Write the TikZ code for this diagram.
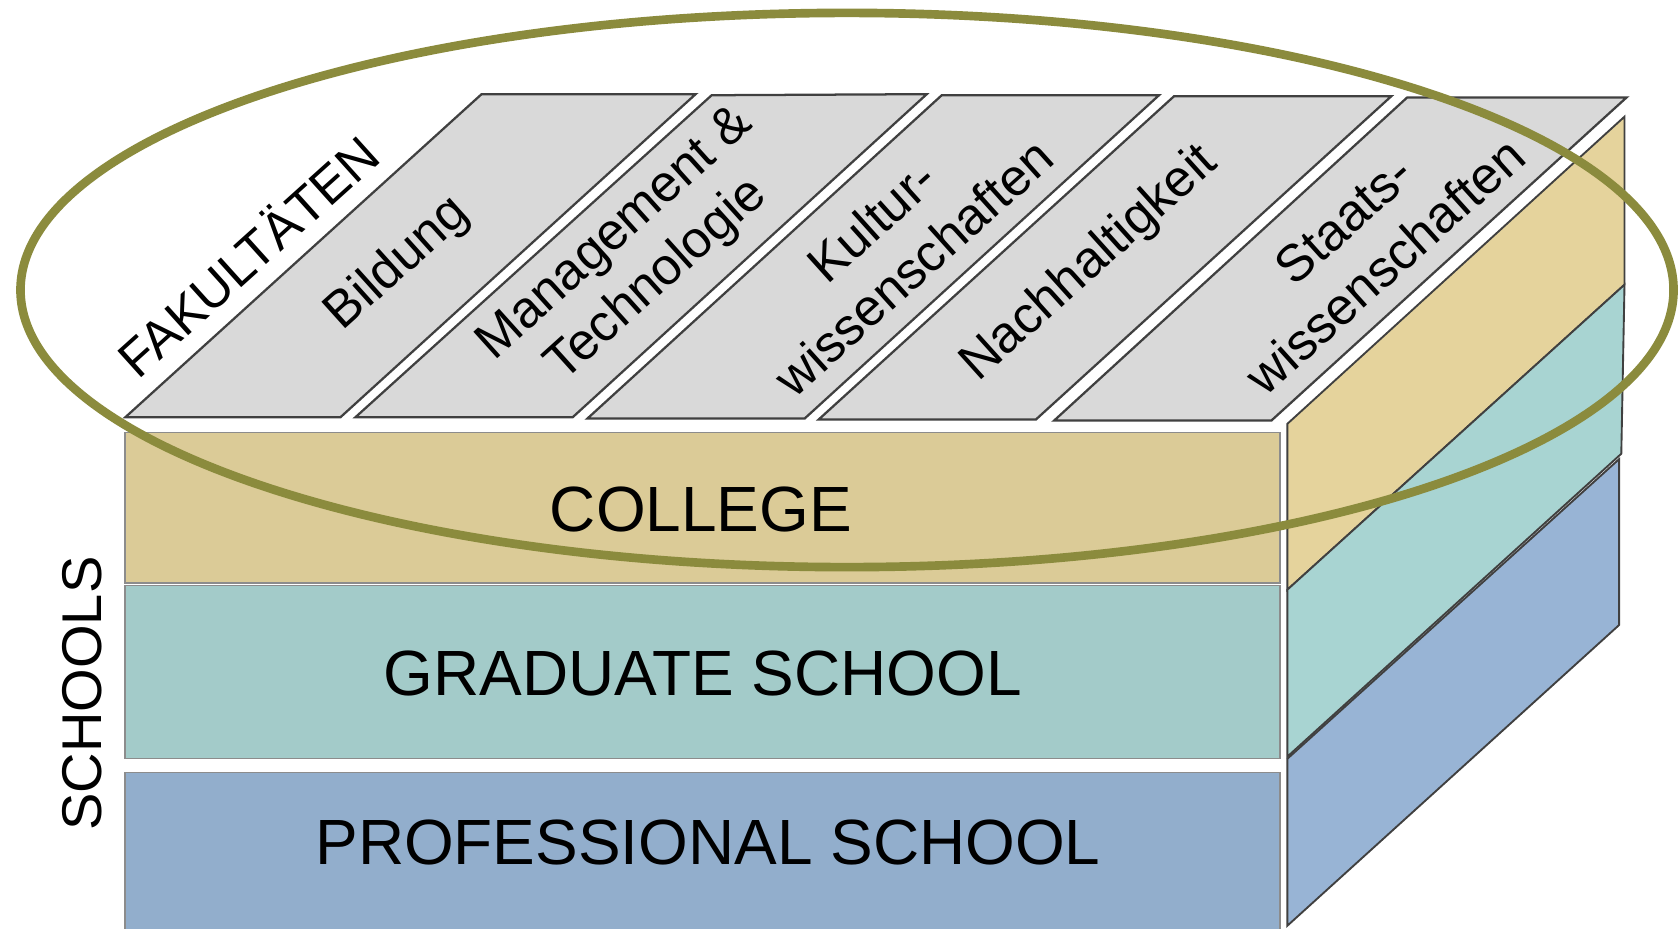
\documentclass[tikz,border=0pt]{standalone}
\usepackage{fontspec}
\setmainfont{Liberation Sans}
\definecolor{facgray}{HTML}{D9D9D9}
\definecolor{edgedark}{HTML}{404040}
\definecolor{edgelight}{HTML}{8C8C8C}
\definecolor{tanfront}{HTML}{DBCB97}
\definecolor{tanside}{HTML}{E5D39C}
\definecolor{tealfront}{HTML}{A3CBC9}
\definecolor{tealside}{HTML}{A8D4D2}
\definecolor{bluefront}{HTML}{92AECC}
\definecolor{blueside}{HTML}{98B4D5}
\definecolor{olive}{HTML}{8B8B3D}
\begin{document}
\begin{tikzpicture}[x=0.02cm,y=-0.02cm,
  facbox/.style={fill=facgray,draw=edgedark,line width=1.2pt,line join=miter},
  frontbox/.style={draw=edgelight,line width=0.8pt},
  sidebox/.style={draw=edgedark,line width=1pt,line join=miter},
  faclbl/.style={font=\fontsize{27.5pt}{33pt}\selectfont,align=center,rotate=42,inner sep=0pt},
  frontlbl/.style={font=\fontsize{34pt}{40pt}\selectfont,inner sep=0pt},
  ring/.style={draw=olive,line width=4.6pt}]
\clip (0,0) rectangle (1568,868);
\fill[white] (0,0) rectangle (1568,868);
% front boxes
\draw[frontbox,fill=tanfront] (117,404) rectangle (1196,545);
\draw[frontbox,fill=tealfront] (117,547) rectangle (1196,709);
\draw[frontbox,fill=bluefront] (117,722) rectangle (1196,890);
% side faces
\draw[sidebox,fill=tanside] (1203,396) -- (1518,109) -- (1518,266) -- (1203,551) -- cycle;
\draw[sidebox,fill=tealside] (1203,551) -- (1518,266) -- (1515,424) -- (1203,707) -- cycle;
\draw[sidebox,fill=blueside] (1203,709) -- (1513,429) -- (1513,584) -- (1203,865) -- cycle;
% top faculty strips
\draw[facbox] (117,390) -- (318,390) -- (650,88) -- (450,88) -- cycle;
\draw[facbox] (332,390) -- (535,390) -- (866,88) -- (665,89) -- cycle;
\draw[facbox] (549,391) -- (752,391) -- (1083,89) -- (880,89) -- cycle;
\draw[facbox] (765,392) -- (968,392) -- (1300,90) -- (1097,90) -- cycle;
\draw[facbox] (985,393) -- (1188,393) -- (1520,91) -- (1315,91) -- cycle;
% labels
\node[faclbl] (fak) at (230,238) {FAKULTÄTEN};
\node[faclbl] (bil) at (372,247) {Bildung};
\node[faclbl] (man) at (595,241) {Management \&\\Technologie};
\node[faclbl] (kul) at (834,228) {Kultur-\\wissenschaften};
\node[faclbl] (nach) at (1018.5,247) {Nachhaltigkeit};
\node[faclbl] (sta) at (1275,227) {Staats-\\wissenschaften};
\node[frontlbl] (col) at (655,476.5) {COLLEGE};
\node[frontlbl] (grad) at (656.5,629) {GRADUATE SCHOOL};
\node[frontlbl] (prof) at (661.5,787.5) {PROFESSIONAL SCHOOL};
\node[font=\fontsize{29.8pt}{35pt}\selectfont,rotate=90,inner sep=0pt] (sch) at (77,648) {SCHOOLS};
% ellipse
\draw[ring] (791.5,271) ellipse [x radius=15.45cm, y radius=5.18cm];
\end{tikzpicture}
\end{document}
